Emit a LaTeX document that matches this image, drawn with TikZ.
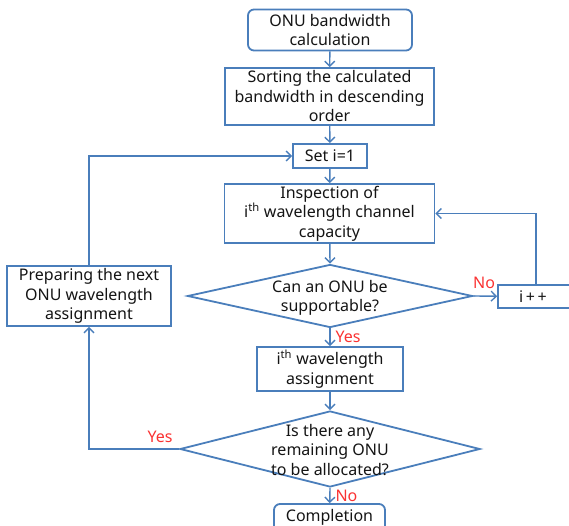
\documentclass[tikz,border=0pt]{standalone}
\usepackage{fontspec}
\setmainfont{Noto Sans}
\usetikzlibrary{arrows.meta,shapes.geometric}
\definecolor{fblue}{RGB}{74,126,187}
\definecolor{fred}{RGB}{250,50,50}
\tikzset{
  box/.style={draw=fblue, line width=1.8pt, rectangle, inner sep=0pt, align=center,
    font=\fontsize{16}{19.5}\selectfont, text=black!92},
  rbox/.style={box, rounded corners=6pt},
  dia/.style={draw=fblue, line width=1.8pt, diamond, inner sep=0pt},
  dtext/.style={inner sep=0pt, align=center, font=\fontsize{16}{19.5}\selectfont, text=black!92},
  arr/.style={draw=fblue, line width=1.4pt, -{Straight Barb[length=5pt,width=10pt,line width=1.4pt]}},
  lab/.style={text=fred, font=\fontsize{16}{18}\selectfont, inner sep=0pt},
}
\begin{document}
\begin{tikzpicture}[x=1pt,y=-1pt]
\useasboundingbox (0,0) rectangle (569,526);
\node[rbox, minimum width=164pt, minimum height=41pt] (calc) at (330,30) {ONU bandwidth\\calculation};
\node[box, minimum width=209pt, minimum height=57pt] (sort) at (329.5,96.5) {Sorting the calculated\\bandwidth in descending\\order};
\node[box, minimum width=74pt, minimum height=24pt] (set) at (330,156) {Set i=1};
\node[box, minimum width=210pt, minimum height=59pt] (insp) at (329.5,213.5) {Inspection of\\i\textsuperscript{th} wavelength channel\\capacity};
\node[dia, minimum width=285pt, minimum height=63pt] (d1) at (330,296) {};
\node[dtext] (d1t) at (330,298) {Can an ONU be\\supportable?};
\node[box, minimum width=76pt, minimum height=23pt] (inc) at (536,296.5) {};
\node[dtext] (inct) at (533,296.5) {i\,+\,+};
\node[box, minimum width=164pt, minimum height=60pt] (prep) at (89,296) {Preparing the next\\ONU wavelength\\assignment};
\node[box, minimum width=146pt, minimum height=44pt] (asg) at (330,369) {i\textsuperscript{th} wavelength\\assignment};
\node[dia, minimum width=300pt, minimum height=76pt] (d2) at (330,449) {};
\node[dtext] (d2t) at (330,450) {Is there any\\remaining ONU\\to be allocated?};
\node[rbox, minimum width=111pt, minimum height=30pt] (comp) at (329.5,519) {};
\node[dtext] (compt) at (329.5,517) {Completion};

\draw[arr] (calc) -- (sort);
\draw[arr] (sort) -- (set);
\draw[arr] (set) -- (insp);
\draw[arr] (insp) -- (d1.north);
\draw[arr] (d1.east) -- (inc) node[lab, pos=0.45, above=7pt] (no1) {No};
\draw[arr] (inc.north) |- (insp.east);
\draw[arr] (d1.south) -- (asg) node[lab, midway, right=5pt] (yes1) {Yes};
\draw[arr] (asg) -- (d2.north);
\draw[arr] (d2.south) -- (comp) node[lab, midway, right=5pt] (no2) {No};
\draw[arr] (d2.west) -| (prep.south);
\node[lab] (yes2) at (160,437) {Yes};
\draw[arr] (prep.north) |- (set.west);
\end{tikzpicture}
\end{document}
